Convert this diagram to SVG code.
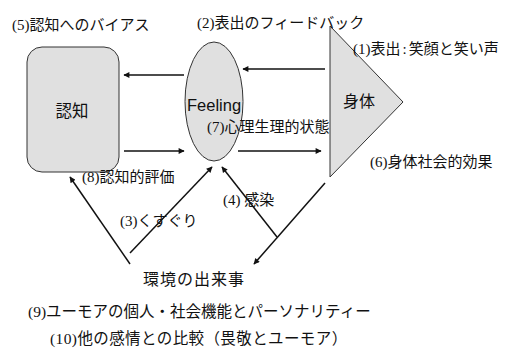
<svg xmlns="http://www.w3.org/2000/svg" width="522" height="353" viewBox="0 0 522 353">
<style>
.shape{fill:#e0e0e0;stroke:#333;stroke-width:1}
.lbl{font-family:"Liberation Serif","Noto Sans CJK JP",serif;font-size:15px;fill:#111}
.sans{font-family:"Liberation Sans","Noto Sans CJK JP",sans-serif;font-size:16px;fill:#111}
.conn{stroke:#111;stroke-width:1.5;fill:none}
.arr{marker-end:url(#ah)}
</style>
<defs>
<marker id="ah" viewBox="0 0 10 10" refX="9" refY="5" markerWidth="9" markerHeight="6" markerUnits="userSpaceOnUse" orient="auto">
<path d="M0,0 L10,5 L0,10 z" fill="#111"/>
</marker>
</defs>
<rect width="522" height="353" fill="#fff"/>
<g id="node-cognition">
<rect class="shape" x="27" y="47" width="92" height="125" rx="15" ry="15"/>
<text class="sans" x="72" y="117" text-anchor="middle" style="font-size:16.5px">認知</text>
</g>
<g id="node-feeling">
<ellipse class="shape" cx="214" cy="101.5" rx="29" ry="59.5"/>
<text class="sans" x="187" y="111" style="font-size:16.5px">Feeling</text>
</g>
<g id="node-body">
<polygon class="shape" points="330,26 403,102 330,177"/>
<text class="sans" x="359" y="107" text-anchor="middle">身体</text>
</g>
<g id="node-env">
<text class="sans" x="194" y="285" text-anchor="middle" letter-spacing="1">環境の出来事</text>
</g>
<g id="connectors">
<line class="conn arr" x1="325" y1="69" x2="243" y2="69"/>
<line class="conn arr" x1="184" y1="75" x2="124" y2="75"/>
<line class="conn arr" x1="124" y1="151" x2="184" y2="151"/>
<line class="conn arr" x1="238" y1="151" x2="321" y2="151"/>
<line class="conn arr" x1="130" y1="264" x2="70" y2="177"/>
<line class="conn arr" x1="130" y1="253" x2="212" y2="167"/>
<line class="conn arr" x1="277" y1="237" x2="222" y2="167"/>
<line class="conn arr" x1="325" y1="183" x2="254" y2="264"/>
</g>
<g id="labels">
<text class="lbl" x="12" y="30">(5)認知へのバイアス</text>
<text class="lbl" x="197" y="28">(2)表出のフィードバック</text>
<text class="lbl" x="353" y="54">(1)表出<tspan dx="2">:</tspan><tspan dx="2">笑顔と笑い声</tspan></text>
<text class="lbl" x="207" y="132">(7)心理生理的状態</text>
<text class="lbl" x="370" y="167">(6)身体社会的効果</text>
<text class="lbl" x="82" y="182">(8)認知的評価</text>
<text class="lbl" x="120" y="226">(3)くすぐり</text>
<text class="lbl" x="223" y="205">(4) 感染</text>
<text class="lbl" x="28" y="317" style="font-size:15.5px">(9)ユーモアの個人・社会機能とパーソナリティー</text>
<text class="lbl" x="50" y="344" style="font-size:15.5px" letter-spacing="0.4">(10)他の感情との比較（畏敬とユーモア）</text>
</g>
</svg>
